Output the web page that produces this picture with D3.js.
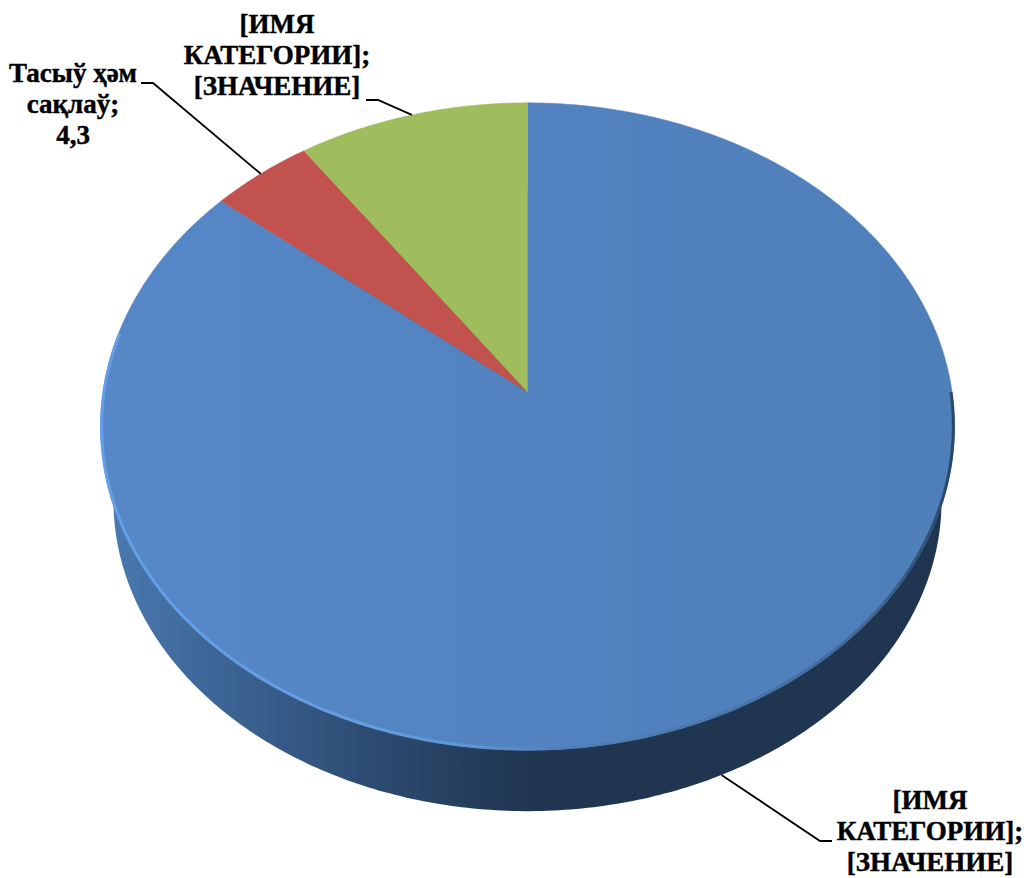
<!DOCTYPE html>
<html>
<head>
<meta charset="utf-8">
<script src="https://cdn.jsdelivr.net/npm/d3@7"></script>
<style>
  body { margin: 0; background: #fff; }
  svg { display: block; }
  .label { font-family: "Liberation Serif", serif; font-weight: bold; font-size: 27px; fill: #000; text-anchor: middle; stroke: #000; stroke-width: 0.45px; }
  .leader { fill: none; stroke: #000; stroke-width: 1.8px; }
</style>
</head>
<body>
<script>
var width = 1027;
var height = 878;

// clockwise from 12 o'clock
var categories = ["[ИМЯ КАТЕГОРИИ]", "Тасыў ҳәм сақлаў", "[ИМЯ КАТЕГОРИИ]"];
var values = [86, 4.3, 9.7];
var sliceColors = ["url(#topBlue)", "#c2524e", "#9fbd5c"];
var labelLines = [
  ["[ИМЯ", "КАТЕГОРИИ];", "[ЗНАЧЕНИЕ]"],
  ["Тасыў ҳәм", "сақлаў;", "4,3"],
  ["[ИМЯ", "КАТЕГОРИИ];", "[ЗНАЧЕНИЕ]"]
];

// label block: centre x, first baseline, and leader elbow
var labelPos = [
  {x: 930, y: 809, elbow: [820, 841], end: [832, 841]},
  {x: 73, y: 82, elbow: [153, 83], end: [141, 83]},
  {x: 277, y: 33, elbow: [378, 100], end: [366, 100]}
];
var lineHeight = 31;

// perspective tilt of the pie disc
var tilt = 0.1066;
var xScale = d3.scaleLinear().domain([-1, 1]).range([527.5 - 424.6, 527.5 + 424.6]);
var yScale = d3.scaleLinear().domain([-1, 1]).range([392 + 320, 392 - 320]);

// the underside is a slightly smaller copy of the top, moved down
var sideX = d3.scaleLinear().domain([100.5, 954.5]).range([113.5, 941.5]);
var sideY = d3.scaleLinear().domain([103, 749]).range([190, 810]);

function project(angle) {
  var u = Math.sin(angle);
  var v = Math.cos(angle);
  var w = 1 + tilt * v;
  return [xScale(u / w), yScale(v / w)];
}

function projectSide(angle) {
  var p = project(angle);
  return [sideX(p[0]), sideY(p[1])];
}

function sample(a0, a1, fn) {
  var n = Math.max(2, Math.ceil(Math.abs(a1 - a0) * 80));
  return d3.range(n + 1).map(function(i) {
    return fn(a0 + (a1 - a0) * i / n);
  });
}

var line = d3.line();

var svg = d3.select("body")
  .append("svg")
  .attr("width", width)
  .attr("height", height);

var defs = svg.append("defs");

function addGradient(id, x1, x2, stops) {
  defs.append("linearGradient")
    .attr("id", id)
    .attr("gradientUnits", "userSpaceOnUse")
    .attr("x1", x1).attr("x2", x2)
    .attr("y1", 0).attr("y2", 0)
    .selectAll("stop")
    .data(stops)
    .enter().append("stop")
    .attr("offset", function(d) { return d[0]; })
    .attr("stop-color", function(d) { return d[1]; });
}

addGradient("sideFill", 105, 530, [[0, "#4a7bb2"], [0.25, "#3d6698"], [0.6, "#2e4d74"], [1, "#1f3550"]]);
addGradient("topBlue", 100, 955, [[0, "#5687c7"], [1, "#4f7fb9"]]);
addGradient("rimStroke", 100, 955, [[0, "#639fe8"], [0.3, "#659ddf"], [0.44, "#5f95d6"], [0.54, "#5080bb"], [0.7, "#4a78ae"], [0.9, "#3f6898"], [1, "#2a4768"]]);

defs.append("filter")
  .attr("id", "soft")
  .append("feGaussianBlur")
  .attr("stdDeviation", 0.7);

var pie = d3.pie().sort(null).value(function(d) { return d; });
var arcs = pie(values);

// side wall
svg.append("path")
  .attr("d", line(sample(0, 2 * Math.PI, projectSide)) + "Z")
  .attr("fill", "url(#sideFill)");

// top of the disc
svg.selectAll(".slice")
  .data(arcs)
  .enter().append("path")
  .attr("class", "slice")
  .attr("fill", function(d, i) { return sliceColors[i]; })
  .attr("stroke", function(d, i) { return sliceColors[i]; })
  .attr("stroke-width", 0.5)
  .attr("d", function(d) {
    return line([[xScale(0), yScale(0)]]
      .concat(sample(d.startAngle, d.endAngle, project))) + "Z";
  });

// bevel along the front edge
svg.append("path")
  .attr("d", line(sample(Math.PI * 0.5, Math.PI * 1.56, project).map(function(p) {
    var dx = p[0] - xScale(0);
    var dy = p[1] - yScale(0);
    var r = Math.sqrt(dx * dx + dy * dy);
    return [p[0] - dx / r * 1.2, p[1] - dy / r * 1.2];
  })))
  .attr("fill", "none")
  .attr("stroke", "url(#rimStroke)")
  .attr("stroke-width", 3)
  .attr("filter", "url(#soft)");

// leaders go from the middle of each slice's outer edge to the label
svg.selectAll(".leader")
  .data(arcs)
  .enter().append("path")
  .attr("class", "leader")
  .attr("d", function(d, i) {
    var mid = (d.startAngle + d.endAngle) / 2;
    var front = Math.cos(mid) < 0;
    var tip = front ? projectSide(mid) : project(mid);
    return line([tip, labelPos[i].elbow, labelPos[i].end]);
  });

var labels = svg.selectAll(".label")
  .data(labelLines)
  .enter().append("text")
  .attr("class", "label")
  .attr("aria-label", function(d, i) { return categories[i]; });

labels.selectAll("tspan")
  .data(function(d, i) {
    return d.map(function(t, j) {
      return {text: t, x: labelPos[i].x, y: labelPos[i].y + j * lineHeight};
    });
  })
  .enter().append("tspan")
  .attr("x", function(d) { return d.x; })
  .attr("y", function(d) { return d.y; })
  .text(function(d) { return d.text; });
</script>
</body>
</html>
